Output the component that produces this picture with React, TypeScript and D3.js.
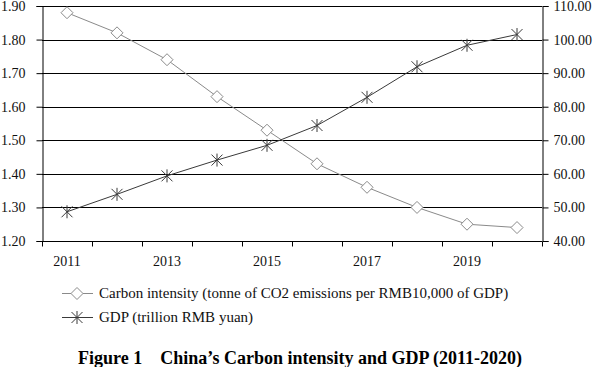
import React, { useEffect, useRef } from 'react';
import * as d3 from 'd3';

const years = ['2011', '2012', '2013', '2014', '2015', '2016', '2017', '2018', '2019', '2020'];
const carbonIntensity = [1.88, 1.82, 1.74, 1.63, 1.53, 1.43, 1.36, 1.30, 1.25, 1.24];
const gdp = [48.7, 53.9, 59.4, 64.1, 68.5, 74.4, 82.8, 91.9, 98.3, 101.5];
const leftTicks = [1.2, 1.3, 1.4, 1.5, 1.6, 1.7, 1.8, 1.9];
const rightTicks = [40, 50, 60, 70, 80, 90, 100, 110];
const shownYears = ['2011', '2013', '2015', '2017', '2019'];
const legendLabels = [
    'Carbon intensity (tonne of CO2 emissions per RMB10,000 of GDP)',
    'GDP (trillion RMB yuan)',
];
const title = 'Figure 1\u00a0\u00a0\u00a0\u00a0China\u2019s Carbon intensity and GDP (2011-2020)';

const W = 595;
const H = 367;
const FONT = "'Liberation Serif', 'Times New Roman', serif";
const CARBON_COLOR = '#8a8a8a';
const GDP_COLOR = '#3a3a3a';

export default function App() {
    const svgRef = useRef<SVGSVGElement>(null);

    useEffect(() => {
        if (!svgRef.current) return;
        const svg = d3.select(svgRef.current);
        svg.selectAll('*').remove();

        const left = 42, right = 542, top = 6, bottom = 241;

        const x = d3.scaleBand<string>().domain(years).range([left, right]);
        const yL = d3.scaleLinear().domain([1.2, 1.9]).range([bottom, top]);
        const yR = d3.scaleLinear().domain([40, 110]).range([bottom, top]);
        const cx = (d: string) => (x(d) ?? 0) + x.bandwidth() / 2;

        // gridlines
        svg.append('g')
            .selectAll('line')
            .data(leftTicks.slice(1))
            .enter().append('line')
            .attr('x1', left).attr('x2', right)
            .attr('y1', d => Math.round(yL(d)) + 0.5)
            .attr('y2', d => Math.round(yL(d)) + 0.5)
            .attr('stroke', '#000').attr('stroke-width', 1);

        // left axis
        const gL = svg.append('g')
            .attr('transform', `translate(${left + 0.5},0)`)
            .call(d3.axisLeft(yL).tickValues(leftTicks).tickFormat(d3.format('.2f')).tickSize(6).tickPadding(11));
        // right axis
        const gR = svg.append('g')
            .attr('transform', `translate(${right + 0.5},0)`)
            .call(d3.axisRight(yR).tickValues(rightTicks).tickFormat(d3.format('.2f')).tickSize(6).tickPadding(5));
        // bottom axis: ticks at category boundaries
        const boundaries = years.map(d => x(d) ?? 0).concat([right]);
        const gB = svg.append('g').attr('transform', `translate(0,${bottom + 0.5})`);
        gB.append('line').attr('x1', left).attr('x2', right).attr('stroke', '#000');
        gB.selectAll('line.tk')
            .data(boundaries)
            .enter().append('line')
            .attr('class', 'tk')
            .attr('x1', d => Math.round(d) + 0.5).attr('x2', d => Math.round(d) + 0.5)
            .attr('y1', 0).attr('y2', 5)
            .attr('stroke', '#000');
        gB.selectAll('text')
            .data(shownYears)
            .enter().append('text')
            .attr('x', d => cx(d))
            .attr('y', 24.5)
            .attr('text-anchor', 'middle')
            .attr('font-family', FONT)
            .attr('font-size', 14)
            .attr('fill', '#111')
            .text(d => d);

        [gL, gR].forEach(g => {
            g.attr('font-family', FONT).attr('font-size', 14);
            g.select('.domain').attr('stroke', '#000');
            g.selectAll('.tick line').attr('stroke', '#000');
            g.selectAll('.tick text')
                .attr('font-family', FONT)
                .attr('font-size', 14)
                .attr('fill', '#111');
        });

        // lines
        const carbonLine = d3.line<number>()
            .x((_, i) => cx(years[i]))
            .y(d => yL(d));
        const gdpLine = d3.line<number>()
            .x((_, i) => cx(years[i]))
            .y(d => yR(d));

        svg.append('path')
            .attr('d', carbonLine(carbonIntensity))
            .attr('fill', 'none')
            .attr('stroke', CARBON_COLOR)
            .attr('stroke-width', 1);
        svg.append('path')
            .attr('d', gdpLine(gdp))
            .attr('fill', 'none')
            .attr('stroke', GDP_COLOR)
            .attr('stroke-width', 1);

        const diamond = (g: d3.Selection<SVGGElement, unknown, null, undefined>, px: number, py: number) => {
            const s = 6;
            g.append('path')
                .attr('d', `M${px},${py - s}L${px + s},${py}L${px},${py + s}L${px - s},${py}Z`)
                .attr('fill', '#fff')
                .attr('stroke', CARBON_COLOR)
                .attr('stroke-width', 1);
        };
        const star = (g: d3.Selection<SVGGElement, unknown, null, undefined>, px: number, py: number) => {
            const s = 5.5;
            g.append('path')
                .attr('d', `M${px - s},${py - s}L${px + s},${py + s}M${px - s},${py + s}L${px + s},${py - s}M${px},${py - s - 1}L${px},${py + s + 1}`)
                .attr('fill', 'none')
                .attr('stroke', GDP_COLOR)
                .attr('stroke-width', 1);
        };

        const markers = svg.append('g');
        carbonIntensity.forEach((v, i) => diamond(markers, cx(years[i]), yL(v)));
        gdp.forEach((v, i) => star(markers, cx(years[i]), yR(v)));

        // legend
        const lg = svg.append('g');
        const rows = [293, 317];
        legendLabels.forEach((label, i) => {
            const y = rows[i];
            lg.append('line')
                .attr('x1', 62).attr('x2', 93)
                .attr('y1', y + 0.5).attr('y2', y + 0.5)
                .attr('stroke', i === 0 ? CARBON_COLOR : GDP_COLOR);
            if (i === 0) diamond(lg, 77, y + 0.5);
            else star(lg, 77, y + 0.5);
            lg.append('text')
                .attr('x', 99)
                .attr('y', y + 5)
                .attr('font-family', FONT)
                .attr('font-size', 15)
                .attr('fill', '#111')
                .text(label);
        });

        // title
        svg.append('text')
            .attr('x', 300)
            .attr('y', 364)
            .attr('text-anchor', 'middle')
            .attr('font-family', FONT)
            .attr('font-size', 18)
            .attr('font-weight', 'bold')
            .attr('fill', '#000')
            .text(title);
    }, []);

    return (
        <svg
            ref={svgRef}
            width={W}
            height={H}
            style={{ position: 'absolute', left: 0, top: 0, background: '#fff' }}
        />
    );
}
